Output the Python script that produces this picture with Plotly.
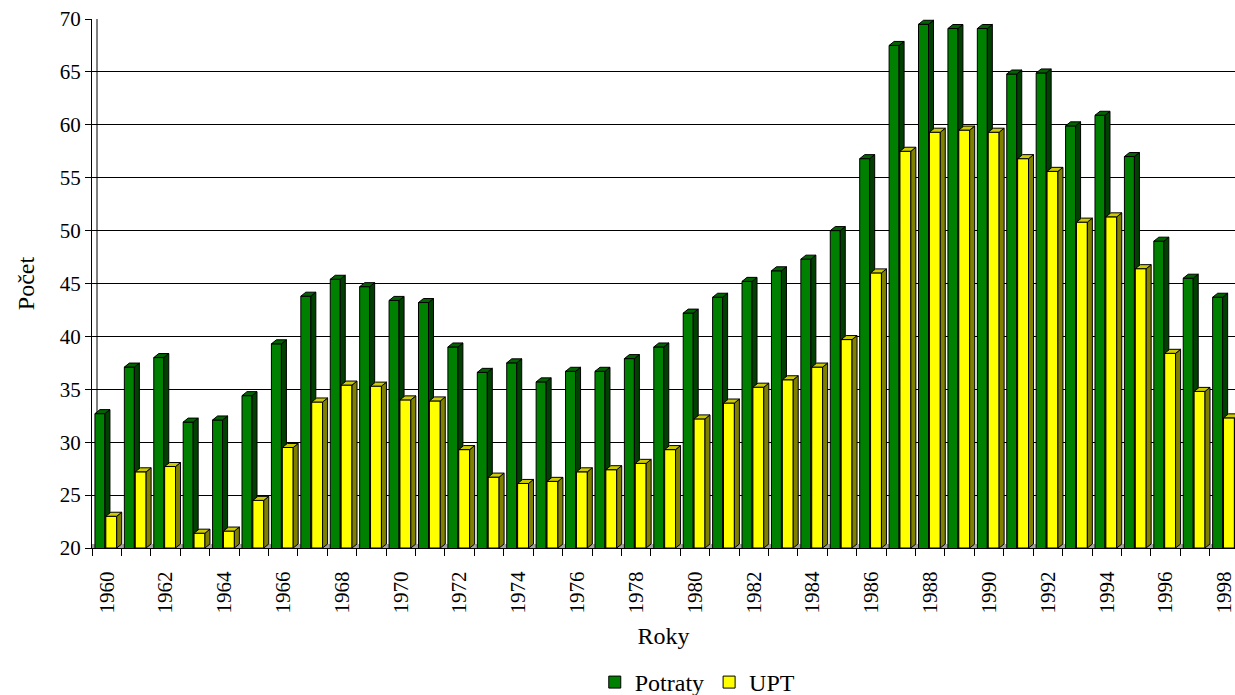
import plotly.graph_objects as go

years = list(range(1960, 1999))
potraty = [32.7, 37.1, 38.0, 31.9, 32.1, 34.4, 39.3, 43.8, 45.4, 44.7,
           43.4, 43.2, 39.0, 36.6, 37.5, 35.7, 36.7, 36.7, 37.9, 39.0,
           42.2, 43.7, 45.2, 46.2, 47.3, 50.0, 56.8, 67.5, 69.5, 69.1,
           69.1, 64.8, 64.9, 59.9, 60.9, 57.0, 49.0, 45.5, 43.7]
upt = [23.0, 27.2, 27.7, 21.4, 21.6, 24.5, 29.5, 33.8, 35.4, 35.3,
       34.0, 33.9, 29.3, 26.7, 26.1, 26.3, 27.2, 27.4, 28.0, 29.3,
       32.2, 33.7, 35.2, 35.9, 37.1, 39.7, 46.0, 57.5, 59.3, 59.5,
       59.3, 56.8, 55.6, 50.8, 51.3, 46.4, 38.4, 34.8, 32.3]
tick_years = years[::2]
tick_text = [str(y) for y in tick_years]

FONT = "Liberation Serif, Times New Roman, serif"
BASE = 20
DX = 0.17   # depth in category units
DY = 0.38   # depth in value units

G_OFF, G_W = -0.40, 0.34
Y_OFF, Y_W = -0.03, 0.37

G_FRONT, G_SIDE, G_TOP = "#008000", "#004000", "#006400"
Y_FRONT, Y_SIDE, Y_TOP = "#FFFF00", "#808000", "#CCCC00"


def front_poly(vals, off, w):
    xs, ys = [], []
    for yr, v in zip(years, vals):
        x0, x1 = yr + off, yr + off + w
        xs += [x0, x1, x1, x0, x0, None]
        ys += [BASE, BASE, v, v, BASE, None]
    return xs, ys


def side_poly(vals, off, w):
    xs, ys = [], []
    for yr, v in zip(years, vals):
        x1 = yr + off + w
        xs += [x1, x1 + DX, x1 + DX, x1, x1, None]
        ys += [BASE, BASE + DY, v + DY, v, BASE, None]
    return xs, ys


def top_poly(vals, off, w):
    xs, ys = [], []
    for yr, v in zip(years, vals):
        x0, x1 = yr + off, yr + off + w
        xs += [x0, x1, x1 + DX, x0 + DX, x0, None]
        ys += [v, v, v + DY, v + DY, v, None]
    return xs, ys


def poly_trace(xy, color):
    xs, ys = xy
    return go.Scatter(x=xs, y=ys, mode="lines", fill="toself", fillcolor=color,
                      line=dict(color="black", width=1), showlegend=False,
                      hoverinfo="skip")


fig = go.Figure()
fig.add_trace(go.Bar(x=years, y=potraty, name="Potraty", offset=G_OFF, width=G_W,
                     marker=dict(color=G_FRONT, line=dict(color="black", width=1))))
fig.add_trace(go.Bar(x=years, y=upt, name="UPT", offset=Y_OFF, width=Y_W,
                     marker=dict(color=Y_FRONT, line=dict(color="black", width=1))))
fig.add_trace(poly_trace(side_poly(potraty, G_OFF, G_W), G_SIDE))
fig.add_trace(poly_trace(top_poly(potraty, G_OFF, G_W), G_TOP))
fig.add_trace(poly_trace(front_poly(upt, Y_OFF, Y_W), Y_FRONT))
fig.add_trace(poly_trace(side_poly(upt, Y_OFF, Y_W), Y_SIDE))
fig.add_trace(poly_trace(top_poly(upt, Y_OFF, Y_W), Y_TOP))

fig.update_layout(
    width=1235, height=695,
    margin=dict(l=92, r=0, t=19, b=147),
    paper_bgcolor="white", plot_bgcolor="white",
    barmode="overlay",
    font=dict(family=FONT, size=21, color="black"),
    showlegend=True,
    legend=dict(orientation="h", xref="container", yref="container",
                x=0.565, xanchor="center", y=0.018, yanchor="middle",
                font=dict(family=FONT, size=24, color="black"),
                itemwidth=30, tracegroupgap=0),
    shapes=[
        dict(type="rect", xref="paper", yref="y", x0=0, x1=1, y0=BASE, y1=BASE + DY,
             fillcolor="#a0a0a0", line=dict(width=0), layer="below"),
        dict(type="line", xref="x", yref="y", x0=1959.5 + DX, x1=1959.5 + DX,
             y0=BASE + DY, y1=70, line=dict(color="black", width=1), layer="below"),
    ],
)
fig.update_xaxes(
    range=[1959.5, 1998.36], automargin=False,
    tickmode="array", tickvals=tick_years, ticktext=tick_text,
    tickangle=-90, ticks="outside", ticklen=14, tickcolor="rgba(0,0,0,0)",
    ticklabeloverflow="allow",
    showgrid=False, zeroline=False,
    showline=True, linecolor="black", linewidth=1,
    tickfont=dict(family=FONT, size=21, color="black"),
    minor=dict(tickmode="array", tickvals=[y - 0.5 for y in years],
               ticks="outside", ticklen=7, tickcolor="black", showgrid=False),
    title=dict(text="Roky", font=dict(family=FONT, size=24, color="black"), standoff=14),
)
fig.update_yaxes(
    range=[20, 70], dtick=5, tick0=20, automargin=False,
    showgrid=True, gridcolor="black", gridwidth=1, zeroline=False,
    showline=True, linecolor="black", linewidth=1,
    ticks="outside", ticklen=6, tickcolor="black",
    tickfont=dict(family=FONT, size=21, color="black"),
    title=dict(text="Počet", font=dict(family=FONT, size=24, color="black"), standoff=18),
)

fig.write_html("out.html", config={"displayModeBar": False},
               post_script="document.body.style.margin='0';document.body.style.overflow='hidden';")
